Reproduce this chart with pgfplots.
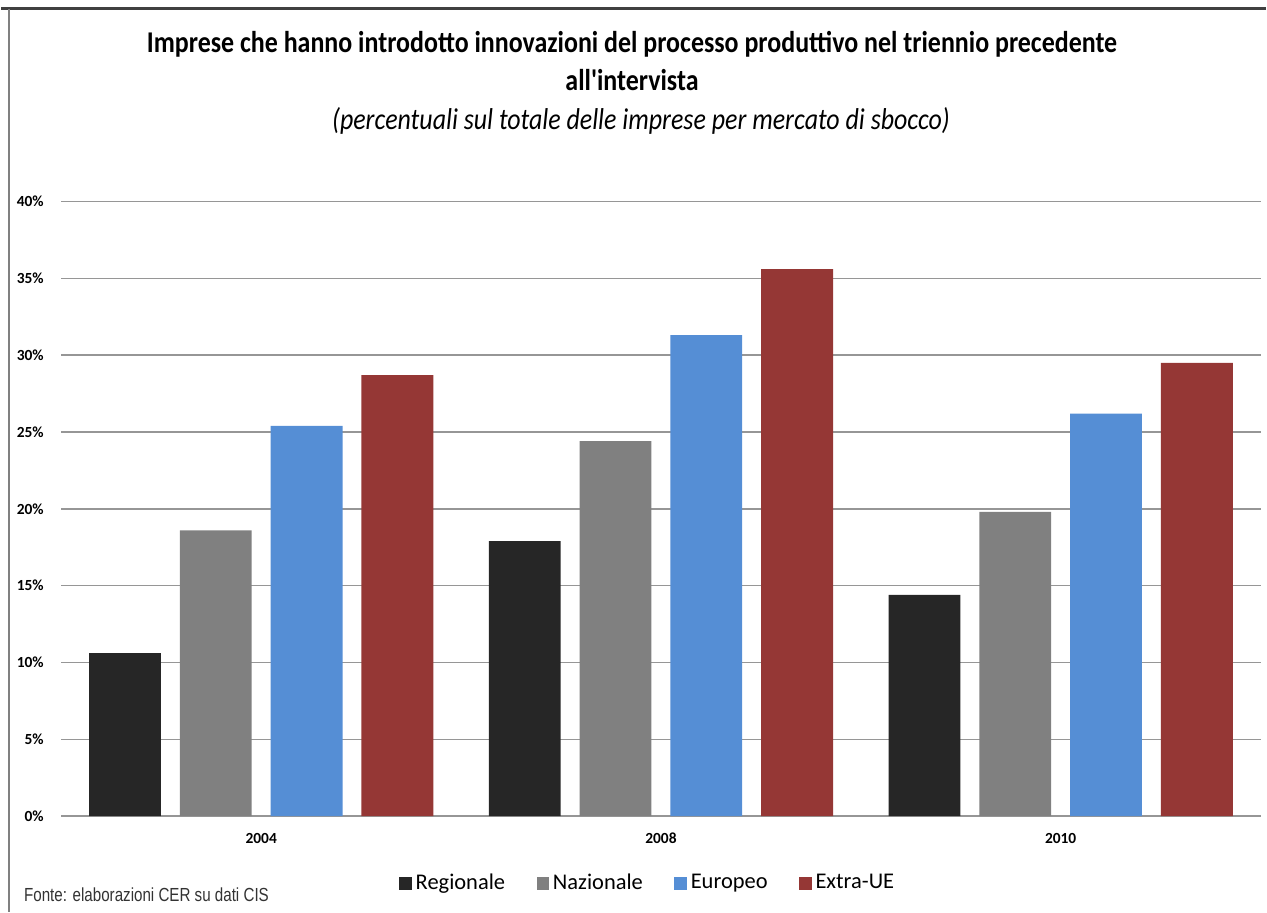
\documentclass[border=0pt]{standalone}
\usepackage{fontspec}
\setmainfont{Carlito}
\newfontfamily\titlefont{Carlito}[FakeStretch=0.86]
\newfontfamily\notefont{Liberation Sans}[FakeStretch=0.8]
\usepackage{pgfplots}
\usepackage{pgfplotstable}
\pgfplotsset{compat=1.18}

\definecolor{cReg}{RGB}{38,38,38}
\definecolor{cNaz}{RGB}{128,128,128}
\definecolor{cEur}{RGB}{85,142,213}
\definecolor{cExt}{RGB}{149,55,53}
\definecolor{cGrid}{RGB}{150,150,150}

% share of firms (%) by target market
\pgfplotstableread{
x reg naz eur ext
0 10.6 18.6 25.4 28.7
1 17.9 24.4 31.3 35.6
2 14.4 19.8 26.2 29.5
}\datatable

\begin{document}
\begin{tikzpicture}[x=0.1mm,y=0.1mm]
\path (0,0) rectangle (1267,914);
\draw[line width=0.3mm, black!75] (0,905) -- (1267,905);
\draw[line width=0.2mm, black!50] (8,905) -- (8,0);

\begin{axis}[
  at={(6mm,9.6mm)}, anchor=south west,
  scale only axis, width=120.2mm, height=61.6mm,
  xmin=-0.5, xmax=2.5, ymin=0, ymax=40,
  ytick={0,5,...,40},
  /pgf/number format/assume math mode=true,
  yticklabel={\pgfmathprintnumber{\tick}\%},
  xtick={0,1,2}, xticklabels={2004,2008,2010},
  axis line style={draw=none},
  major tick length=0pt,
  ymajorgrids, grid style={cGrid, line width=0.15mm},
  tick label style={font=\fontsize{4.4}{5}\selectfont\bfseries},
  yticklabel style={inner sep=0pt, anchor=east, xshift=-1.7mm},
  xticklabel style={inner sep=0pt, anchor=center, yshift=-2.2mm},
  ybar, bar width=7.2mm,
  legend columns=-1,
  legend image code/.code={\fill[#1] (0mm,-0.65mm) rectangle (1.3mm,0.65mm);},
  legend style={at={(0.2812,-0.1104)}, anchor=west, draw=none, fill=none,
    font=\fontsize{6.4}{7}\selectfont, inner sep=0pt,
    nodes={inner sep=0.35mm},
    /tikz/every even column/.append style={column sep=2.8mm}},
]
\addplot[fill=cReg, draw=none, bar shift=-13.65mm] table[x=x,y=reg]{\datatable};
\addplot[fill=cNaz, draw=none, bar shift=-4.55mm] table[x=x,y=naz]{\datatable};
\addplot[fill=cEur, draw=none, bar shift=4.55mm] table[x=x,y=eur]{\datatable};
\addplot[fill=cExt, draw=none, bar shift=13.65mm] table[x=x,y=ext]{\datatable};
\legend{Regionale, Nazionale, Europeo, Extra-UE}
\end{axis}

\node[anchor=base, inner sep=0pt, font=\titlefont\bfseries\fontsize{8.6}{10}\selectfont] at (632,861)
  {Imprese che hanno introdotto innovazioni del processo produttivo nel triennio precedente};
\node[anchor=base, inner sep=0pt, font=\titlefont\bfseries\fontsize{8.6}{10}\selectfont] at (632,823)
  {all'intervista};
\node[anchor=base, inner sep=0pt, font=\titlefont\itshape\fontsize{8.6}{10}\selectfont] at (641,784)
  {(percentuali sul totale delle imprese per mercato di sbocco)};
\node[anchor=west, inner sep=0pt, text=black!80, font=\notefont\fontsize{5.4}{6}\selectfont] at (22,17)
  {Fonte: elaborazioni CER su dati CIS};
\end{tikzpicture}
\end{document}
